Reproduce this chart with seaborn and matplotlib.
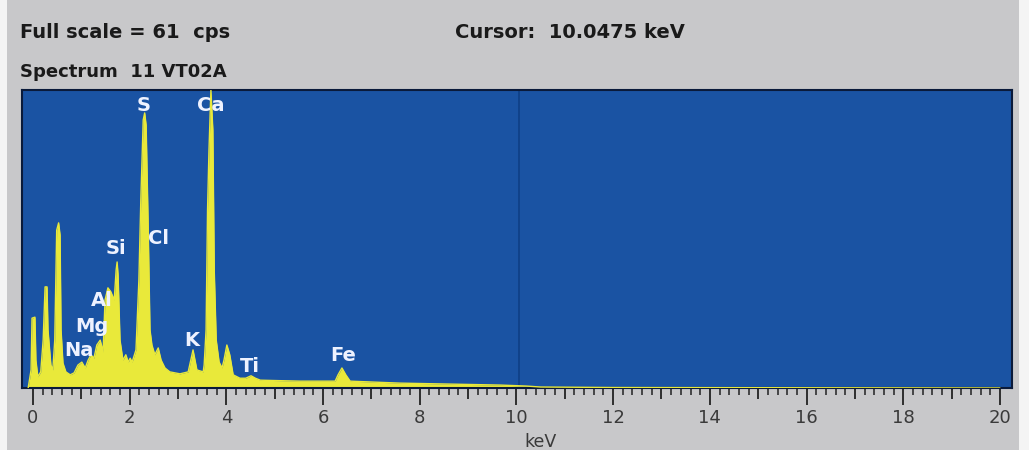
import matplotlib
matplotlib.use("Agg")
import matplotlib.pyplot as plt
import seaborn as sns
import pandas as pd
from matplotlib.patches import Rectangle

# ---- data ----
energy_kev = [-0.10, -0.04, -0.02, 0.04, 0.06, 0.10, 0.16, 0.21, 0.25, 0.29, 0.31, 0.37, 0.41,
              0.45, 0.49, 0.53, 0.56, 0.58, 0.62, 0.68, 0.77, 0.85, 0.93, 1.01, 1.08, 1.14,
              1.20, 1.26, 1.32, 1.39, 1.45, 1.49, 1.55, 1.61, 1.68, 1.72, 1.74, 1.76, 1.80,
              1.86, 1.92, 1.97, 2.01, 2.05, 2.13, 2.19, 2.23, 2.28, 2.31, 2.34, 2.38, 2.42,
              2.46, 2.52, 2.59, 2.65, 2.73, 2.83, 3.04, 3.21, 3.31, 3.39, 3.52, 3.54, 3.58,
              3.61, 3.64, 3.68, 3.72, 3.75, 3.79, 3.85, 3.91, 3.95, 4.01, 4.07, 4.14, 4.28,
              4.40, 4.51, 4.60, 4.70, 5.52, 6.25, 6.31, 6.39, 6.47, 6.56, 7.59, 9.66, 10.2,
              10.5, 12.0, 20.0]
counts_cps = [0.0, 3.7, 14.3, 14.5, 5.7, 2.3, 3.3, 9.8, 20.7, 20.7, 11.9, 4.7, 3.7,
              9.8, 32.3, 33.8, 31.3, 11.9, 5.1, 3.3, 2.7, 3.1, 4.7, 5.3, 4.1, 5.7,
              6.8, 6.1, 8.8, 9.8, 7.4, 18.0, 20.5, 19.7, 18.0, 24.2, 25.8, 23.1, 9.8,
              5.7, 6.8, 5.3, 6.1, 5.3, 7.8, 22.1, 38.5, 54.9, 56.3, 53.8, 34.4, 11.9,
              8.8, 6.8, 8.2, 5.7, 4.1, 3.3, 2.9, 3.3, 7.8, 3.7, 3.3, 4.7, 11.9,
              36.4, 48.7, 61.0, 52.8, 23.7, 9.8, 5.3, 4.1, 5.7, 8.8, 6.8, 2.7, 2.0,
              2.0, 2.5, 2.0, 1.6, 1.4, 1.4, 2.7, 4.1, 2.7, 1.4, 1.0, 0.6, 0.4,
              0.2, 0.1, 0.0]

element_labels = ["Na", "Mg", "Al", "Si", "S", "Cl", "K", "Ca", "Ti", "Fe"]
label_kev = [0.95, 1.22, 1.43, 1.72, 2.28, 2.59, 3.29, 3.68, 4.49, 6.41]
label_cps = [7.6, 12.5, 18.0, 28.5, 57.9, 30.7, 9.8, 57.9, 4.5, 6.6]

tick_values = list(range(0, 21, 2))
tick_labels = [str(v) for v in tick_values]
cursor_kev = 10.0475
full_scale = 61

df = pd.DataFrame({"keV": energy_kev, "cps": counts_cps})

# ---- style ----
sns.set_style("white")
plt.rcParams["font.family"] = ["DejaVu Sans"]

BG = "#c8c8ca"
PLOT_BG = "#1a53a3"
YELLOW = "#e9e93a"

fig = plt.figure(figsize=(10.29, 4.5), dpi=100, facecolor=BG)
fig.patches.append(Rectangle((0, 0), 7 / 1029, 1, transform=fig.transFigure,
                             facecolor="#f4f4f4", edgecolor="none", zorder=0))
fig.patches.append(Rectangle((1019 / 1029, 0), 10 / 1029, 1, transform=fig.transFigure,
                             facecolor="#f4f4f4", edgecolor="none", zorder=0))

ax = fig.add_axes([22 / 1029, 1 - 388 / 450, 990 / 1029, 298 / 450])
ax.set_facecolor(PLOT_BG)

ax.fill_between(df["keV"], 0, df["cps"], color=YELLOW, linewidth=0, zorder=2)
sns.lineplot(data=df, x="keV", y="cps", ax=ax, color=YELLOW, linewidth=1.0,
             zorder=3, legend=False)

ax.axvline(cursor_kev, color="#0f3f85", linewidth=1.2, zorder=1)

for lab, xk, yc in zip(element_labels, label_kev, label_cps):
    ax.text(xk, yc, lab, color="#eef2ff", fontsize=14, fontweight="bold",
            ha="center", va="center", zorder=4)

ax.set_xlim(-0.2275, 20.25)
ax.set_ylim(0, full_scale)
ax.set_yticks([])

ax.set_xticks(list(range(0, 21)))
ax.set_xticklabels([str(v) if v in tick_values else "" for v in range(0, 21)])
ax.set_xticks([i * 0.2 for i in range(0, 101)], minor=True)
ax.tick_params(axis="x", which="both", bottom=True, top=False)
ax.tick_params(axis="x", which="major", direction="out", length=12, width=1.3,
               color="#222222", labelsize=13, labelcolor="#3a3a3a", pad=3)
ax.tick_params(axis="x", which="minor", direction="out", length=5, width=1.1,
               color="#222222")
for v, t in zip(range(0, 21), ax.xaxis.get_major_ticks()):
    if v % 2 == 1:
        t.tick1line.set_markersize(8)

for s in ax.spines.values():
    s.set_color("#0a1a3a")
    s.set_linewidth(1.5)

ax.set_xlabel("")
ax.set_ylabel("")
fig.text(540 / 1029, 1 - 442 / 450, "keV", fontsize=12.5, color="#3a3a3a",
         ha="center", va="center")

fig.text(20 / 1029, 1 - 33 / 450, f"Full scale = {full_scale}  cps", fontsize=14,
         fontweight="bold", color="#1a1a1a", ha="left", va="center")
fig.text(455 / 1029, 1 - 33 / 450, f"Cursor:  {cursor_kev} keV", fontsize=14,
         fontweight="bold", color="#1a1a1a", ha="left", va="center")
fig.text(20 / 1029, 1 - 72 / 450, "Spectrum  11 VT02A", fontsize=13,
         fontweight="bold", color="#1a1a1a", ha="left", va="center")

fig.savefig("out.png", dpi=100, facecolor=BG)
